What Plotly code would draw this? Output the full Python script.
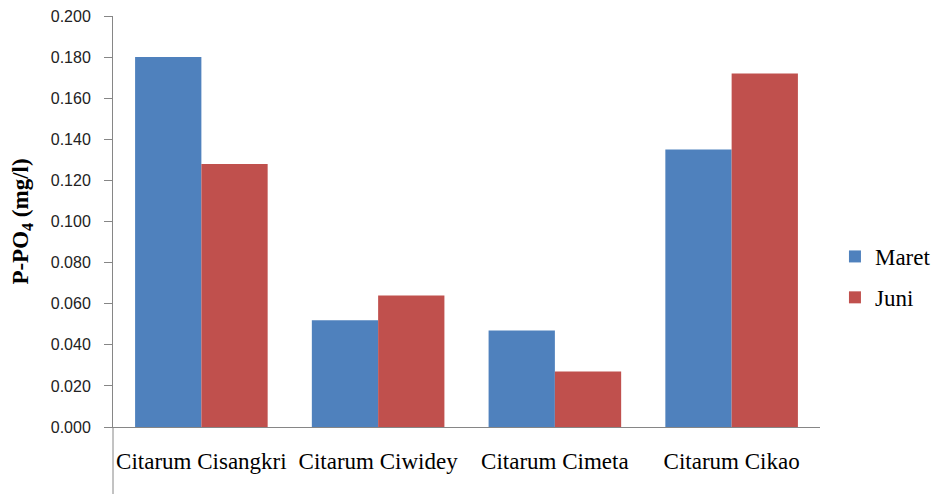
import plotly.graph_objects as go

categories = ["Citarum Cisangkri", "Citarum Ciwidey", "Citarum Cimeta", "Citarum Cikao"]
maret = [0.180, 0.052, 0.047, 0.135]
juni = [0.128, 0.064, 0.027, 0.172]
series_names = ["Maret", "Juni"]
colors = ["#4F81BD", "#C0504D"]

fig = go.Figure()
for name, vals, col in zip(series_names, [maret, juni], colors):
    fig.add_trace(go.Bar(x=categories, y=vals, name=name, legendgroup=name,
                         marker=dict(color=col, line=dict(width=0))))

axis_col = "#868686"
fig.update_layout(
    width=935, height=494,
    margin=dict(l=113, r=115, t=16, b=67, autoexpand=False),
    paper_bgcolor="white", plot_bgcolor="white",
    barmode="group", bargap=0.25, bargroupgap=0,
    showlegend=True,
    legend=dict(xref="container", x=0.893, y=0.365, xanchor="left", yanchor="middle",
                font=dict(family="Liberation Serif", size=23, color="black"),
                tracegroupgap=8, itemwidth=30),
    xaxis=dict(showline=True, linecolor=axis_col, linewidth=1, ticks="",
               tickfont=dict(family="Liberation Serif", size=23, color="black"),
               showgrid=False, automargin=False, ticklabelstandoff=13),
    yaxis=dict(range=[0, 0.2], dtick=0.02, tickformat=".3f",
               showline=True, linecolor=axis_col, linewidth=1,
               ticks="outside", ticklen=8, tickcolor=axis_col,
               tickfont=dict(family="Liberation Sans", size=16, color="#222222"),
               ticklabelstandoff=10,
               showgrid=False, zeroline=False, automargin=False,
               title=dict(text="<b>P-PO<sub>4</sub> (mg/l)</b>",
                          font=dict(family="Liberation Serif", size=23, color="black"))),
)
# extend y axis line down below the plot area (Excel-style frame crop)
fig.add_shape(type="line", xref="paper", yref="paper", x0=0, x1=0, y0=0, y1=-0.2,
              line=dict(color=axis_col, width=1))
fig.write_html(
    "out.html",
    config={"responsive": False, "displayModeBar": False},
    post_script="document.body.style.margin='0';document.body.style.overflow='hidden';",
)
